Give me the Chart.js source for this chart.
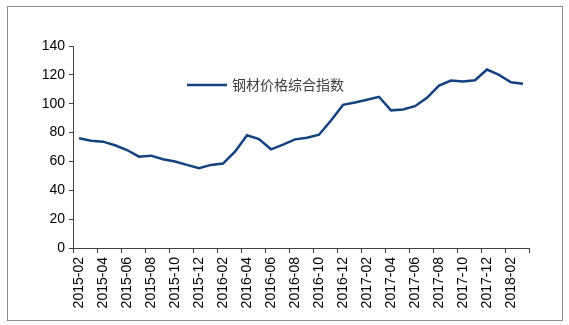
<!DOCTYPE html>
<html>
<head>
<meta charset="utf-8">
<script src="https://cdn.jsdelivr.net/npm/chart.js@4.4.1/dist/chart.umd.min.js"></script>
<style>
  html, body { margin: 0; padding: 0; background: #fff; }
  #wrap { position: relative; width: 569px; height: 325px; }
</style>
</head>
<body>
<div id="wrap"><canvas id="c" width="569" height="325"></canvas></div>
<script>
// Monthly steel price composite index, 2015-02 .. 2018-03
const months = [
  '2015-02','2015-03','2015-04','2015-05','2015-06','2015-07','2015-08','2015-09','2015-10','2015-11','2015-12',
  '2016-01','2016-02','2016-03','2016-04','2016-05','2016-06','2016-07','2016-08','2016-09','2016-10','2016-11','2016-12',
  '2017-01','2017-02','2017-03','2017-04','2017-05','2017-06','2017-07','2017-08','2017-09','2017-10','2017-11','2017-12',
  '2018-01','2018-02','2018-03'
];
const steelIndex = [
  76.0, 74.4, 73.7, 71.2, 67.9, 63.3, 64.0, 61.5, 59.9, 57.6, 55.3,
  57.6, 58.5, 66.8, 78.1, 75.5, 68.4, 71.6, 75.3, 76.4, 78.5, 88.4, 99.2,
  100.9, 102.7, 104.8, 95.4, 96.0, 98.3, 104.1, 112.6, 116.1, 115.4, 116.3, 123.7,
  120.0, 114.9, 113.8
];
const seriesName = '钢材价格综合指数';
const yTicks = [0, 20, 40, 60, 80, 100, 120, 140];

const lineColor = '#14427f';
const axisColor = '#404040';
const numFont = { family: 'Liberation Sans, Arial, sans-serif', size: 14 };

// white background and thin grey frame round the whole figure
const framePlugin = {
  id: 'frame',
  beforeDraw(chart) {
    const ctx = chart.ctx;
    ctx.save();
    ctx.fillStyle = '#ffffff';
    ctx.fillRect(0, 0, chart.width, chart.height);
    ctx.strokeStyle = '#8c8c8c';
    ctx.lineWidth = 1;
    ctx.strokeRect(7.5, 6.5, 555, 314);
    ctx.restore();
  }
};

// legend drawn inside the plot area: a line sample followed by the series name
const innerLegend = {
  id: 'innerLegend',
  afterDraw(chart) {
    const ctx = chart.ctx;
    const ds = chart.data.datasets[0];
    const y = 85;
    ctx.save();
    ctx.strokeStyle = ds.borderColor;
    ctx.lineWidth = ds.borderWidth;
    ctx.beginPath();
    ctx.moveTo(187, y);
    ctx.lineTo(227, y);
    ctx.stroke();
    ctx.fillStyle = '#404040';
    ctx.font = '14px "Noto Sans CJK SC", sans-serif';
    ctx.textBaseline = 'middle';
    ctx.textAlign = 'left';
    ctx.fillText(ds.label, 232, y);
    ctx.restore();
  }
};

new Chart(document.getElementById('c'), {
  type: 'line',
  data: {
    labels: months,
    datasets: [{
      label: seriesName,
      data: steelIndex,
      borderColor: lineColor,
      backgroundColor: lineColor,
      borderWidth: 2.5,
      pointRadius: 0,
      tension: 0,
      fill: false
    }]
  },
  options: {
    responsive: false,
    animation: false,
    devicePixelRatio: 1,
    layout: { padding: { left: 0, top: 46, right: 40, bottom: 0 } },
    plugins: { legend: { display: false }, tooltip: { enabled: false } },
    scales: {
      x: {
        type: 'category',
        offset: true,
        afterFit(scale) { scale.height = 77; },
        grid: {
          offset: true,
          drawOnChartArea: false,
          drawTicks: true,
          tickLength: 5,
          tickColor: (c) => (c.index === undefined || c.index % 2 === 0) ? axisColor : 'rgba(0,0,0,0)'
        },
        border: { display: true, color: axisColor, width: 1 },
        ticks: {
          autoSkip: false,
          maxRotation: 90,
          minRotation: 90,
          padding: 4,
          color: '#000',
          font: numFont,
          callback: function (v, i) { return i % 2 === 0 ? this.getLabelForValue(v) : ''; }
        }
      },
      y: {
        min: yTicks[0],
        max: yTicks[yTicks.length - 1],
        afterFit(scale) { scale.width = 73; },
        afterBuildTicks(scale) { scale.ticks = yTicks.map(v => ({ value: v })); },
        grid: {
          drawOnChartArea: false,
          drawTicks: true,
          tickLength: 4,
          tickColor: axisColor
        },
        border: { display: true, color: axisColor, width: 1 },
        ticks: {
          padding: 4,
          color: '#000',
          font: numFont
        }
      }
    }
  },
  plugins: [framePlugin, innerLegend]
});
</script>
</body>
</html>
